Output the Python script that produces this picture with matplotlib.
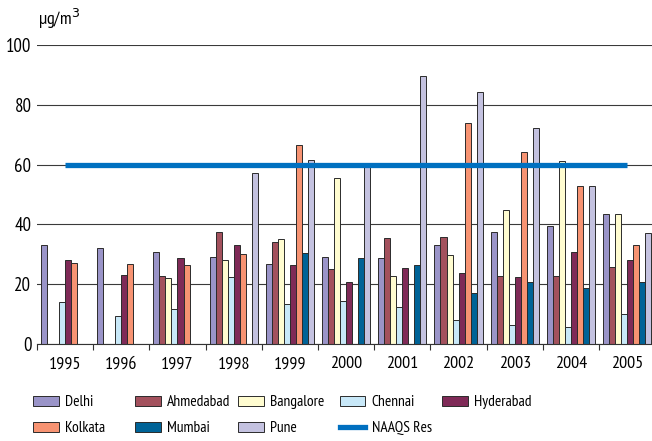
import matplotlib

matplotlib.use("Agg")
import matplotlib.pyplot as plt
import numpy as np
from matplotlib.lines import Line2D
from matplotlib.patches import Patch

plt.rcParams["font.family"] = ["PT Sans Narrow", "DejaVu Sans"]

years = ["1995", "1996", "1997", "1998", "1999", "2000",
         "2001", "2002", "2003", "2004", "2005"]
cities = ["Delhi", "Ahmedabad", "Bangalore", "Chennai",
          "Hyderabad", "Kolkata", "Mumbai", "Pune"]

# annual mean concentrations, nan = no monitoring data that year
nan = np.nan
delhi = [33.0, 32.1, 30.9, 29.0, 26.9, 29.0, 28.6, 33.0, 37.6, 39.5, 43.6]
ahmedabad = [nan, nan, 22.8, 37.3, 34.0, 25.0, 35.5, 35.9, 22.8, 22.8, 25.9]
bangalore = [nan, nan, 21.9, 28.0, 35.0, 55.4, 22.8, 29.9, 44.9, 61.2, 43.6]
chennai = [14.1, 9.5, 11.6, 22.3, 13.5, 14.5, 12.5, 7.9, 6.4, 5.8, 10.0]
hyderabad = [28.0, 23.2, 28.6, 33.1, 26.5, 20.8, 25.4, 23.9, 22.3, 30.9, 28.0]
kolkata = [27.2, 26.9, 26.3, 30.0, 66.7, nan, nan, 74.0, 64.2, 53.0, 33.0]
mumbai = [nan, nan, nan, nan, 30.5, 28.6, 26.3, 17.2, 20.8, 18.6, 20.8]
pune = [nan, nan, nan, 57.1, 61.4, 60.0, 89.6, 84.2, 72.4, 53.0, 37.2]
naaqs = [60] * len(years)

series = [delhi, ahmedabad, bangalore, chennai, hyderabad, kolkata, mumbai, pune]
colors = ["#9A94C8", "#A3515D", "#FFFCD0", "#C8E8F8",
          "#7F2A57", "#F79372", "#006397", "#C4C2E0"]

fig = plt.figure(figsize=(6.52, 4.41), dpi=100)
ax = fig.add_axes([0.0567, 0.22, 0.9483, 0.678])

x = np.arange(len(years))
width = 0.107
for i, (vals, color, name) in enumerate(zip(series, colors, cities)):
    ax.bar(x + (i - 3.5) * width, vals, width, color=color,
           edgecolor="#2b2b2b", linewidth=0.7, label=name, zorder=2)

ax.plot(x, naaqs, color="#0070C0", linewidth=3.8, zorder=3,
        solid_capstyle="butt", label="NAAQS Res")

ax.set_xlim(-0.5, len(years) - 0.5)
ax.set_ylim(0, 100)
ax.set_yticks([0, 20, 40, 60, 80, 100])
ax.yaxis.grid(True, color="#3a3a3a", linewidth=0.8, zorder=0)
ax.set_axisbelow(True)
ax.tick_params(axis="y", length=0, labelsize=13.5, pad=4)

ax.set_xticks(x)
ax.set_xticklabels(years)
ax.set_xticks(np.arange(len(years) + 1) - 0.5, minor=True)
ax.tick_params(axis="x", which="major", length=0, labelsize=13, pad=9)
ax.tick_params(axis="x", which="minor", length=4, width=0.8, color="#333333")

for side in ["top", "right", "left"]:
    ax.spines[side].set_visible(False)
ax.spines["bottom"].set_color("#333333")

fig.text(0.058, 0.957, "µg/m$^3$", fontsize=13, va="center", ha="left")

# legend laid out as five evenly spaced columns
handles = [Patch(facecolor=c, edgecolor="#2b2b2b", linewidth=0.7, label=n)
           for c, n in zip(colors, cities)]
handles.append(Line2D([], [], color="#0070C0", linewidth=3.8, label="NAAQS Res"))
col_x = [0.0506, 0.207, 0.365, 0.521, 0.678]
for col, left in enumerate(col_x):
    fig.legend(handles=handles[col::5], loc="upper left",
               bbox_to_anchor=(left, 0.104), frameon=False, fontsize=11.2,
               handlelength=1.65, handleheight=0.6, handletextpad=0.4,
               labelspacing=0.78, borderpad=0, borderaxespad=0)

fig.savefig("out.png", dpi=100)
plt.close(fig)
